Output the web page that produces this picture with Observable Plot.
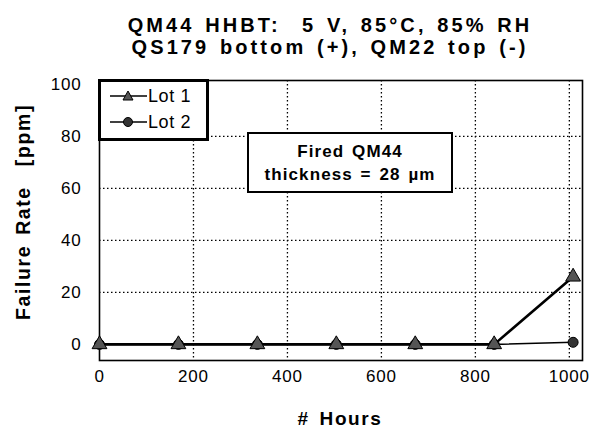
<!DOCTYPE html>
<html>
<head>
<meta charset="utf-8">
<script src="https://cdn.jsdelivr.net/npm/d3@7"></script>
<script src="https://cdn.jsdelivr.net/npm/@observablehq/plot@0.6"></script>
<style>
  html, body { margin: 0; padding: 0; background: #fff; }
  body { font-family: "Liberation Sans", Arial, Helvetica, sans-serif; color: #000; }
  #wrap { position: relative; width: 589px; height: 430px; overflow: hidden; }
  #title { position: absolute; left: 30px; width: 600px; top: 14px; text-align: center;
           font-weight: bold; font-size: 20px; line-height: 22px; letter-spacing: 3.1px; word-spacing: 2px; }
  #chart { position: absolute; left: 0; top: 60px; }
  #chart svg text { letter-spacing: 0.8px; }
  #ylabel { position: absolute; left: 23px; top: 212px; transform: translate(-50%, -50%) rotate(-90deg);
            white-space: nowrap; font-weight: bold; font-size: 19.5px; letter-spacing: 1.6px; word-spacing: 3px; }
  #xlabel { position: absolute; left: 340px; top: 408px; transform: translateX(-50%);
            white-space: nowrap; font-weight: bold; font-size: 19px; letter-spacing: 1.6px; word-spacing: 3px; }
  #legend { position: absolute; left: 98px; top: 79px; width: 105px; height: 56px; background: #fff;
            border: 3px solid #000; }
  #legend .row { position: absolute; left: 0; height: 24px; display: flex; align-items: center; font-size: 18px; letter-spacing: 0.6px; }
  #legend svg { margin-left: 9px; margin-right: 1px; }
  #note { position: absolute; left: 247px; top: 132px; width: 202px; height: 57px; background: #fff;
          border: 2px solid #000; text-align: center; font-weight: bold; font-size: 17px; line-height: 23px;
          display: flex; flex-direction: column; justify-content: center; letter-spacing: 1.1px; word-spacing: 2px; }
</style>
</head>
<body>
<div id="wrap">
  <div id="chart"></div>
  <div id="title"></div>
  <div id="ylabel"></div>
  <div id="xlabel"></div>
  <div id="legend"></div>
  <div id="note"></div>
</div>
<script>
// ---- data ----
const titleLines = ["QM44 HHBT:  5 V, 85°C, 85% RH", "QS179 bottom (+), QM22 top (-)"];
const xLabel = "# Hours";
const yLabel = "Failure Rate  [ppm]";
const noteLines = ["Fired QM44", "thickness = 28 µm"];
const seriesNames = ["Lot 1", "Lot 2"];
const hours = [0, 168, 336, 504, 672, 840, 1008];
const lot1 = [0, 0, 0, 0, 0, 0, 26];
const lot2 = [0, 0, 0, 0, 0, 0, 0.8];
const xTicks = [0, 200, 400, 600, 800, 1000];
const yTicks = [0, 20, 40, 60, 80, 100];
const xGrid = [200, 400, 600, 800, 1000];
const yGrid = [20, 40, 60, 80];

const d1 = hours.map((h, i) => ({hours: h, rate: lot1[i]}));
const d2 = hours.map((h, i) => ({hours: h, rate: lot2[i]}));

const chart = Plot.plot({
  width: 589,
  height: 370,
  marginTop: 20,
  marginBottom: 70,
  marginLeft: 99,
  marginRight: 7,
  style: {fontFamily: '"Liberation Sans", Arial, Helvetica, sans-serif', fontSize: "17px", color: "#000", background: "#fff"},
  x: {domain: [0, 1028]},
  y: {domain: [-6.2, 101.5]},
  marks: [
    Plot.gridX(xGrid, {stroke: "#000", strokeOpacity: 1, strokeWidth: 1.3, strokeDasharray: "1.5,2.5"}),
    Plot.gridY(yGrid, {stroke: "#000", strokeOpacity: 1, strokeWidth: 1.3, strokeDasharray: "1.5,2.5"}),
    Plot.frame({stroke: "#000", strokeWidth: 1.6}),
    Plot.line(d2, {x: "hours", y: "rate", stroke: "#000", strokeWidth: 1.6}),
    Plot.line(d1, {x: "hours", y: "rate", stroke: "#000", strokeWidth: 2.6}),
    Plot.dot(d2, {x: "hours", y: "rate", symbol: "circle", r: 5, fill: "#333", stroke: "#000", strokeWidth: 1}),
    Plot.dot(d1, {x: "hours", y: "rate", symbol: "triangle", r: 5.5, fill: "#555", stroke: "#000", strokeWidth: 1}),
    Plot.axisX({ticks: xTicks, tickFormat: d => String(d), tickSize: 0, tickPadding: 9, fontSize: 17, label: null}),
    Plot.axisY({ticks: yTicks, tickFormat: d => String(d), tickSize: 0, tickPadding: 18, fontSize: 17, label: null})
  ]
});
document.getElementById("chart").appendChild(chart);

document.getElementById("title").innerHTML = titleLines.map(t => t.replace(/  /g, " &nbsp;")).join("<br>");
document.getElementById("ylabel").innerHTML = yLabel.replace(/  /g, " &nbsp;");
document.getElementById("xlabel").textContent = xLabel;
document.getElementById("note").innerHTML = noteLines.map(t => `<div>${t}</div>`).join("");

const legend = document.getElementById("legend");
seriesNames.forEach((name, i) => {
  const row = document.createElement("div");
  row.className = "row";
  row.style.top = (i === 0 ? 2 : 28) + "px";
  const sym = i === 0
    ? `<polygon points="18,2 23,11 13,11" fill="#555" stroke="#000" stroke-width="1"/>`
    : `<circle cx="18" cy="7" r="4.5" fill="#333" stroke="#000" stroke-width="1"/>`;
  row.innerHTML = `<svg width="37" height="14"><line x1="0" y1="7" x2="37" y2="7" stroke="#000" stroke-width="1.6"/>${sym}</svg><span>${name}</span>`;
  legend.appendChild(row);
});
</script>
</body>
</html>
